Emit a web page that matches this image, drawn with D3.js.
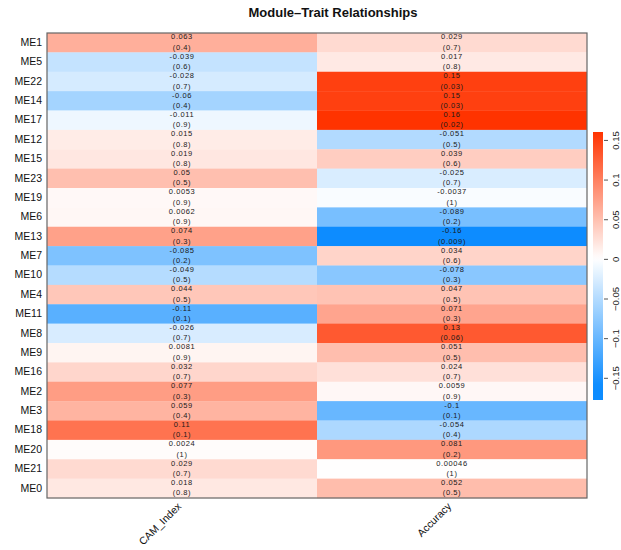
<!DOCTYPE html>
<html>
<head>
<meta charset="utf-8">
<script src="https://cdn.jsdelivr.net/npm/d3@7"></script>
<style>
  html, body { margin: 0; padding: 0; background: #fff; }
  svg { display: block; font-family: "Liberation Sans", Arial, sans-serif; }
</style>
</head>
<body>
<svg id="chart" width="621" height="550"></svg>
<script>
// Module eigengenes (rows) and traits (columns)
const modules = ["ME1","ME5","ME22","ME14","ME17","ME12","ME15","ME23","ME19","ME6","ME13","ME7",
                 "ME10","ME4","ME11","ME8","ME9","ME16","ME2","ME3","ME18","ME20","ME21","ME0"];
const traits = ["CAM_Index", "Accuracy"];

// Correlation of each module with CAM_Index, and its p-value
const camCor = [0.063,-0.039,-0.028,-0.06,-0.011,0.015,0.019,0.05,0.0053,0.0062,0.074,-0.085,
                -0.049,0.044,-0.11,-0.026,0.0081,0.032,0.077,0.059,0.11,0.0024,0.029,0.018];
const camP   = ["0.4","0.6","0.7","0.4","0.9","0.8","0.8","0.5","0.9","0.9","0.3","0.2",
                "0.5","0.5","0.1","0.7","0.9","0.7","0.3","0.4","0.1","1","0.7","0.8"];

// Correlation of each module with Accuracy, and its p-value
const accCor = [0.029,0.017,0.15,0.15,0.16,-0.051,0.039,-0.025,-0.0037,-0.089,-0.16,0.034,
                -0.078,0.047,0.071,0.13,0.051,0.024,0.0059,-0.1,-0.054,0.081,0.00046,0.052];
const accP   = ["0.7","0.8","0.03","0.03","0.02","0.5","0.6","0.7","1","0.2","0.009","0.6",
                "0.3","0.5","0.3","0.06","0.5","0.7","0.9","0.1","0.4","0.2","1","0.5"];

// Colour bar ticks and range
const legendTicks = [-0.15, -0.1, -0.05, 0, 0.05, 0.1, 0.15];
const legendRange = [-0.178, 0.16];

const svg = d3.select("#chart");

const plot = { left: 47, right: 587, top: 33, bottom: 498 };

const x = d3.scaleBand().domain(traits).range([plot.left, plot.right]);
const y = d3.scaleBand().domain(modules).range([plot.top, plot.bottom]);

// blue - white - red palette
const color = d3.scaleLinear()
  .domain([-0.16, 0, 0.16])
  .range(["rgb(13,140,255)", "#ffffff", "rgb(255,51,0)"])
  .clamp(true);

const cells = [];
modules.forEach((m, i) => {
  cells.push({ module: m, trait: traits[0], r: camCor[i], p: camP[i] });
  cells.push({ module: m, trait: traits[1], r: accCor[i], p: accP[i] });
});

// heatmap cells
svg.append("g").selectAll("rect")
  .data(cells).join("rect")
  .attr("x", d => x(d.trait))
  .attr("y", d => y(d.module))
  .attr("width", x.bandwidth())
  .attr("height", y.bandwidth() + 0.3)
  .attr("fill", d => color(d.r));

// cell text: correlation and p-value
const txt = svg.append("g")
  .attr("font-size", 7.5)
  .attr("letter-spacing", 0.6)
  .attr("fill", "#1a1a1a")
  .attr("text-anchor", "middle");
txt.selectAll("text.r")
  .data(cells).join("text")
  .attr("class", "r")
  .attr("x", d => x(d.trait) + x.bandwidth() / 2)
  .attr("y", d => y(d.module) + 4.5)
  .attr("dominant-baseline", "middle")
  .text(d => d.r);
txt.selectAll("text.p")
  .data(cells).join("text")
  .attr("class", "p")
  .attr("x", d => x(d.trait) + x.bandwidth() / 2)
  .attr("y", d => y(d.module) + 14.8)
  .attr("dominant-baseline", "middle")
  .text(d => "(" + d.p + ")");

// frame
svg.append("rect")
  .attr("x", plot.left).attr("y", plot.top)
  .attr("width", plot.right - plot.left)
  .attr("height", plot.bottom - plot.top)
  .attr("fill", "none")
  .attr("stroke", "#666")
  .attr("stroke-width", 1.2);

// row labels
svg.append("g").selectAll("text")
  .data(modules).join("text")
  .attr("x", 42)
  .attr("y", d => y(d) + y.bandwidth() / 2 + 0.5)
  .attr("dominant-baseline", "middle")
  .attr("text-anchor", "end")
  .attr("font-size", 10.5)
  .attr("fill", "#111")
  .text(d => d);

// column labels, rotated
svg.append("g").selectAll("text")
  .data(traits).join("text")
  .attr("transform", d => `translate(${x(d) + x.bandwidth() / 2},507) rotate(-45)`)
  .attr("text-anchor", "end")
  .attr("font-size", 10.5)
  .attr("fill", "#111")
  .text(d => d);

// title
svg.append("text")
  .attr("x", 333).attr("y", 17)
  .attr("text-anchor", "middle")
  .attr("font-size", 13)
  .attr("font-weight", "bold")
  .attr("fill", "#111")
  .text("Module\u2013Trait Relationships");

// colour bar
const bar = { x: 593, w: 10, top: 132, bottom: 400 };
const ly = d3.scaleLinear().domain(legendRange).range([bar.bottom, bar.top]);

const defs = svg.append("defs");
const grad = defs.append("linearGradient")
  .attr("id", "legendGrad")
  .attr("x1", 0).attr("y1", 1).attr("x2", 0).attr("y2", 0);
const stops = d3.range(0, 1.0001, 0.02);
grad.selectAll("stop").data(stops).join("stop")
  .attr("offset", d => d)
  .attr("stop-color", d => color(legendRange[0] + d * (legendRange[1] - legendRange[0])));

svg.append("rect")
  .attr("x", bar.x).attr("y", bar.top)
  .attr("width", bar.w).attr("height", bar.bottom - bar.top)
  .attr("fill", "url(#legendGrad)");

const axis = svg.append("g")
  .attr("transform", `translate(${bar.x + bar.w + 1},0)`)
  .call(d3.axisRight(ly).tickValues(legendTicks).tickSize(4).tickFormat(d3.format("")));
axis.select(".domain").remove();
axis.selectAll(".tick line").attr("stroke", "#555");
axis.selectAll(".tick text")
  .attr("font-size", 9.5)
  .attr("fill", "#222")
  .attr("text-anchor", "middle")
  .attr("dy", 0)
  .attr("x", 0)
  .attr("transform", "translate(12,0) rotate(-90)")
  .attr("dominant-baseline", "middle");
</script>
</body>
</html>
